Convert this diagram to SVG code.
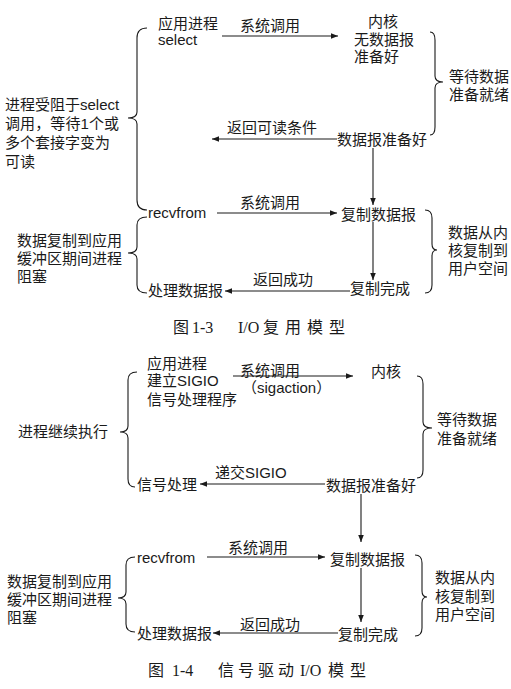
<svg xmlns="http://www.w3.org/2000/svg" width="511" height="689" viewBox="0 0 511 689">
<style>
text{font-family:"Liberation Sans","Noto Sans CJK SC",sans-serif;font-size:15px;fill:#1a1a1a}
.cap{font-family:"Liberation Serif","Noto Sans CJK SC",serif;font-size:16px}
.br{fill:none;stroke:#1a1a1a;stroke-width:1.1}
.ln{fill:none;stroke:#1a1a1a;stroke-width:1.1;marker-end:url(#ah)}
</style>
<defs>
<marker id="ah" viewBox="0 0 10 10" refX="10" refY="5" markerWidth="7" markerHeight="7" markerUnits="userSpaceOnUse" orient="auto">
<path d="M0,1 L10,5 L0,9 Z" fill="#1a1a1a"/>
</marker>
</defs>
<rect width="511" height="689" fill="#fff"/>

<g id="connectors">
<line class="ln" x1="222" y1="36" x2="338" y2="36"/>
<line class="ln" x1="337" y1="139" x2="212" y2="139"/>
<line class="ln" x1="373" y1="148" x2="373" y2="205"/>
<line class="ln" x1="217" y1="213" x2="337" y2="213"/>
<line class="ln" x1="373" y1="222" x2="373" y2="280"/>
<line class="ln" x1="350" y1="291" x2="225" y2="291"/>
<line class="ln" x1="233" y1="376" x2="353" y2="376"/>
<line class="ln" x1="325" y1="484" x2="200" y2="484"/>
<line class="ln" x1="361" y1="494" x2="361" y2="542"/>
<line class="ln" x1="207" y1="557" x2="325" y2="557"/>
<line class="ln" x1="361" y1="568" x2="361" y2="622"/>
<line class="ln" x1="338" y1="633" x2="213" y2="633"/>
</g>

<g id="braces">
<path class="br" d="M147,28 Q137,28 137,38 L137,112 Q137,118 128,118 Q137,118 137,124 L137,200 Q137,210 147,210"/>
<path class="br" d="M147,217 Q137,217 137,225 L137,247 Q137,253 128,253 Q137,253 137,259 L137,285 Q137,293 147,293"/>
<path class="br" d="M430,32 Q435,32 435,40 L435,76 Q435,82 443,82 Q435,82 435,88 L435,127 Q435,135 430,135"/>
<path class="br" d="M425,210 Q432,210 432,218 L432,244 Q432,250 437,250 Q432,250 432,256 L432,285 Q432,293 425,293"/>
<path class="br" d="M137,372 Q128,372 128,380 L128,426 Q128,432 120,432 Q128,432 128,438 L128,479 Q128,487 135,487"/>
<path class="br" d="M417,376 Q423,376 423,384 L423,422 Q423,428 432,428 Q423,428 423,434 L423,470 Q423,478 417,478"/>
<path class="br" d="M135,557 Q126,557 126,565 L126,592 Q126,598 118,598 Q126,598 126,604 L126,624 Q126,632 135,632"/>
<path class="br" d="M415,555 Q422,555 422,563 L422,591 Q422,597 427,597 Q422,597 422,603 L422,628 Q422,636 415,636"/>
</g>

<g id="fig13">
<g id="n-app"><text x="158" y="29">应用进程</text><text x="158" y="45">select</text></g>
<text x="240" y="31">系统调用</text>
<g id="n-kernel"><text x="368" y="27">内核</text><text x="354" y="45">无数据报</text><text x="354" y="62">准备好</text></g>
<g id="n-wait"><text x="449" y="82">等待数据</text><text x="449" y="100">准备就绪</text></g>
<g id="n-blocked"><text x="5" y="110">进程受阻于select</text><text x="5" y="129" textLength="114">调用，等待1个或</text><text x="5" y="148">多个套接字变为</text><text x="5" y="167">可读</text></g>
<text x="227" y="133">返回可读条件</text>
<g id="n-ready"><text x="337" y="145">数据报准备好</text></g>
<g id="n-recv"><text x="148" y="218">recvfrom</text></g>
<text x="240" y="208">系统调用</text>
<g id="n-copy"><text x="341" y="220">复制数据报</text></g>
<g id="n-copyk"><text x="448" y="238">数据从内</text><text x="448" y="256">核复制到</text><text x="448" y="274">用户空间</text></g>
<g id="n-copyblk"><text x="17" y="246">数据复制到应用</text><text x="17" y="264">缓冲区期间进程</text><text x="17" y="282">阻塞</text></g>
<text x="253" y="285">返回成功</text>
<g id="n-proc"><text x="148" y="296">处理数据报</text></g>
<g id="n-done"><text x="350" y="294">复制完成</text></g>
<g id="cap1"><text class="cap" x="173" y="333">图</text><text class="cap" x="192" y="333">1-3</text><text class="cap" x="238" y="333">I/O</text><text class="cap" x="263" y="333" letter-spacing="6">复用模型</text></g>
</g>

<g id="fig14">
<g id="n2-app"><text x="147" y="369">应用进程</text><text x="147" y="386">建立SIGIO</text><text x="147" y="405">信号处理程序</text></g>
<text x="240" y="376">系统调用</text>
<text x="242" y="393">（sigaction）</text>
<g id="n2-kernel"><text x="371" y="377">内核</text></g>
<g id="n2-cont"><text x="18" y="437">进程继续执行</text></g>
<g id="n2-wait"><text x="437" y="425">等待数据</text><text x="437" y="444">准备就绪</text></g>
<text x="215" y="478">递交SIGIO</text>
<g id="n2-sig"><text x="137" y="490">信号处理</text></g>
<g id="n2-ready"><text x="326" y="491">数据报准备好</text></g>
<g id="n2-recv"><text x="137" y="563">recvfrom</text></g>
<text x="228" y="553">系统调用</text>
<g id="n2-copy"><text x="330" y="565">复制数据报</text></g>
<g id="n2-copyk"><text x="435" y="583">数据从内</text><text x="435" y="602">核复制到</text><text x="435" y="620">用户空间</text></g>
<g id="n2-copyblk"><text x="7" y="587">数据复制到应用</text><text x="7" y="605">缓冲区期间进程</text><text x="7" y="623">阻塞</text></g>
<text x="240" y="630">返回成功</text>
<g id="n2-proc"><text x="137" y="639">处理数据报</text></g>
<g id="n2-done"><text x="338" y="640">复制完成</text></g>
<g id="cap2"><text class="cap" x="148" y="676">图</text><text class="cap" x="172" y="676">1-4</text><text class="cap" x="218" y="676" letter-spacing="4">信号驱动</text><text class="cap" x="300" y="676">I/O</text><text class="cap" x="328" y="676" letter-spacing="6">模型</text></g>
</g>
</svg>
